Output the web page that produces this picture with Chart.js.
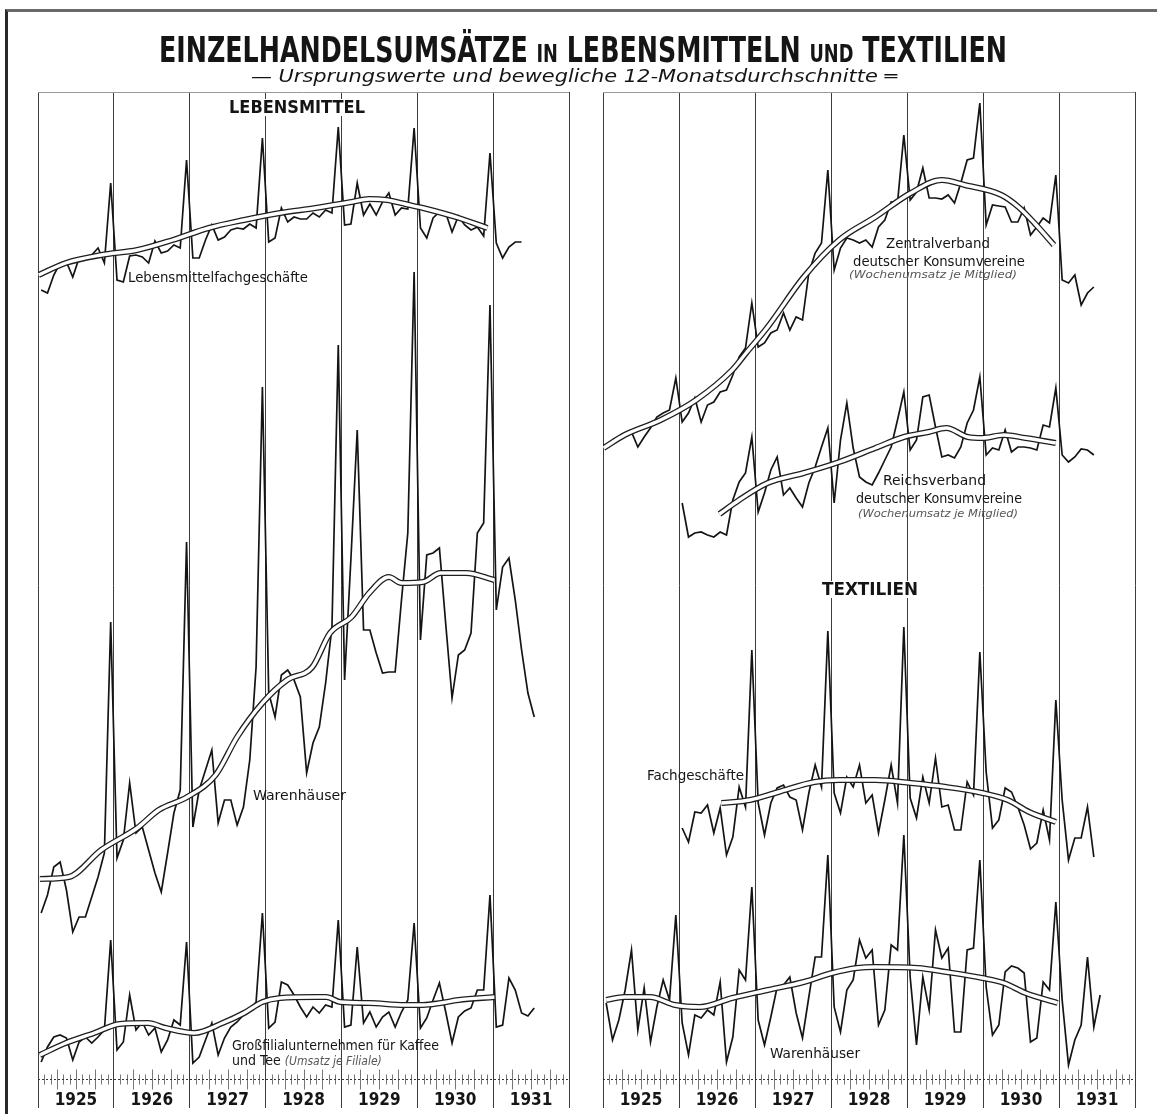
<!DOCTYPE html>
<html lang="de">
<head>
<meta charset="utf-8">
<title>Einzelhandelsumsätze in Lebensmitteln und Textilien</title>
<script src="https://cdn.jsdelivr.net/npm/chart.js@4.4.1/dist/chart.umd.min.js"></script>
<style>
  html, body { margin: 0; padding: 0; background: #fff; }
  body {
    width: 1157px; height: 1114px; position: relative; overflow: hidden;
    font-family: 'DejaVu Sans Condensed', 'Liberation Sans Narrow', 'DejaVu Sans', sans-serif;
    color: #151515;
  }
  .rahmen { position: absolute; left: 5px; top: 9px; right: -5px; bottom: -5px; border-left: 3px solid #2a2a2a; border-top: 3px solid #6a6a6a; }
  canvas { position: absolute; top: 0; }
  #chartLinks { left: 0; }
  #chartRechts { left: 586px; }
  .txt { position: absolute; white-space: nowrap; line-height: 1; transform-origin: 0 50%; }
  .titel { font-size: 36px; font-weight: bold; }
  .titel small { font-size: 0.7em; }
  .untertitel { font-size: 17px; font-style: italic; }
  .kopf { font-size: 17px; font-weight: bold; background: #fff; }
  .name { font-size: 14px; }
  .hinweis { font-size: 11px; font-style: italic; color: #555; }
  .name .hinweis { font-size: 12px; }
</style>
</head>
<body>
<div class="rahmen"></div>
<canvas id="chartLinks" width="586" height="1114"></canvas>
<canvas id="chartRechts" width="571" height="1114"></canvas>

<div class="txt titel" style="left:159px; top:32px" data-w="848">EINZELHANDELSUMSÄTZE <small>IN</small> LEBENSMITTELN <small>UND</small> TEXTILIEN</div>
<div class="txt untertitel" style="left:251px; top:68px" data-w="646">— Ursprungswerte und bewegliche 12-Monatsdurchschnitte ═</div>

<div class="txt kopf" style="left:229px; top:99px" data-w="136">LEBENSMITTEL</div>
<div class="txt kopf" style="left:822px; top:581px" data-w="96">TEXTILIEN</div>

<div class="txt name" style="left:128px; top:270px" data-w="180">Lebensmittelfachgeschäfte</div>
<div class="txt name" style="left:253px; top:788px" data-w="93">Warenhäuser</div>
<div class="txt name" style="left:232px; top:1038px" data-w="207">Großfilialunternehmen für Kaffee</div>
<div class="txt name" style="left:232px; top:1053px">und Tee <span class="hinweis">(Umsatz je Filiale)</span></div>

<div class="txt name" style="left:886px; top:236px" data-w="104">Zentralverband</div>
<div class="txt name" style="left:853px; top:254px" data-w="172">deutscher Konsumvereine</div>
<div class="txt hinweis" style="left:849px; top:269px" data-w="168">(Wochenumsatz je Mitglied)</div>

<div class="txt name" style="left:883px; top:473px" data-w="103">Reichsverband</div>
<div class="txt name" style="left:856px; top:491px" data-w="166">deutscher Konsumvereine</div>
<div class="txt hinweis" style="left:858px; top:508px" data-w="160">(Wochenumsatz je Mitglied)</div>

<div class="txt name" style="left:647px; top:768px" data-w="97">Fachgeschäfte</div>
<div class="txt name" style="left:770px; top:1046px" data-w="90">Warenhäuser</div>

<script>
// Jahre der Zeitachse (Monat 0 = Januar 1925)
const jahre = ['1925', '1926', '1927', '1928', '1929', '1930', '1931'];
const jahresGrenzen = [0, 6, 12, 18, 24, 30, 36, 42, 48, 54, 60, 66, 72, 78, 84];

// Ursprungswerte (Monatswerte, relative Höhe im Bild)
const lebensmittelFach = [
    789, 786, 804, 816, 817, 802, 821, 822, 824, 831, 816, 896,
    799, 797, 823, 824, 822, 816, 838, 826, 828, 834, 831, 919,
    821, 821, 839, 854, 839, 842, 849, 851, 850, 855, 851, 941,
    837, 841, 871, 857, 862, 860, 860, 866, 862, 869, 866, 952,
    854, 855, 896, 864, 875, 864, 877, 886, 864, 871, 870, 951,
    851, 841, 861, 867, 866, 847, 863, 854, 849, 852, 843, 926,
    836, 821, 832, 837, 837
];
const lebensmittelWarenhaus = [
    166, 184, 212, 217, 189, 147, 162, 162, 182, 202, 226, 457,
    221, 239, 296, 246, 252, 229, 206, 187, 226, 266, 289, 537,
    252, 289, 309, 329, 256, 279, 279, 254, 272, 319, 412, 692,
    386, 362, 404, 409, 399, 382, 306, 336, 352, 396, 452, 734,
    399, 520, 649, 449, 449, 426, 406, 407, 407, 479, 546, 807,
    439, 524, 526, 531, 455, 381, 424, 429, 446, 546, 556, 774,
    469, 512, 521, 479, 429, 386, 362
];
const kaffeeTeeFilialen = [
    17, 32, 42, 44, 41, 19, 37, 42, 36, 42, 49, 139,
    29, 37, 84, 49, 57, 44, 51, 27, 39, 59, 54, 137,
    16, 22, 39, 56, 24, 41, 52, 57, 64, 69, 77, 166,
    51, 57, 97, 94, 84, 72, 62, 72, 66, 74, 72, 159,
    52, 54, 132, 56, 67, 52, 62, 67, 52, 67, 79, 156,
    51, 61, 79, 96, 67, 36, 62, 68, 71, 89, 89, 184,
    52, 54, 101, 89, 66, 63, 71
];
const zentralverband = [
    634, 637, 641, 644, 647, 632, 642, 651, 662, 666, 669, 701,
    657, 666, 681, 657, 674, 677, 687, 689, 704, 722, 731, 776,
    732, 736, 746, 749, 766, 749, 762, 759, 806, 826, 836, 909,
    809, 831, 841, 839, 836, 839, 832, 852, 859, 877, 876, 944,
    879, 887, 911, 881, 881, 880, 884, 876, 896, 919, 921, 976,
    854, 874, 873, 872, 857, 857, 871, 844, 852, 861, 856, 904,
    799, 796, 804, 774, 786, 792
];
// ab Januar 1926
const reichsverband = [
    576, 542, 546, 547, 544, 542, 547, 544, 579, 597, 606, 642,
    567, 586, 609, 622, 584, 591, 581, 572, 596, 612, 632, 651,
    576, 639, 676, 631, 602, 597, 594, 606, 619, 632, 659, 687,
    629, 639, 682, 684, 652, 622, 624, 621, 632, 656, 669, 702,
    624, 631, 629, 649, 627, 632, 632, 631, 629, 654, 652, 691,
    624, 617, 622, 630, 629, 624
];
// ab Januar 1926
const textilFach = [
    251, 237, 267, 266, 274, 246, 271, 224, 242, 292, 272, 429,
    276, 244, 276, 291, 294, 282, 279, 249, 286, 314, 292, 448,
    286, 266, 302, 292, 314, 276, 284, 246, 279, 314, 276, 452,
    281, 261, 302, 276, 321, 272, 274, 249, 249, 297, 284, 427,
    307, 251, 259, 291, 287, 272, 254, 230, 236, 269, 239, 379,
    279, 219, 241, 241, 272, 222
];
const textilWarenhaus = [
    76, 39, 59, 89, 129, 49, 91, 37, 72, 99, 79, 164,
    56, 24, 64, 61, 69, 64, 97, 17, 42, 109, 99, 192,
    59, 34, 62, 92, 94, 102, 66, 41, 82, 122, 122, 224,
    72, 47, 89, 99, 139, 121, 129, 54, 69, 134, 129, 244,
    102, 34, 102, 69, 149, 121, 131, 47, 47, 129, 131, 219,
    92, 44, 54, 107, 113, 111, 106, 37, 41, 97, 89, 177,
    79, 14, 39, 54, 122, 52, 84
];

// bewegliche 12-Monatsdurchschnitte: [Monat, Wert]
const maLebensmittelFach = [[0.1, 804], [4.4, 816], [10, 824], [15.7, 829], [21.3, 839], [27, 851], [32.6, 859], [38.3, 866], [43.9, 871], [49.6, 877], [52.4, 880], [55.2, 879], [58.1, 875], [60.9, 871], [66.6, 861], [71.1, 851]];
const maLebensmittelWarenhaus = [[0.3, 200], [4.9, 202], [10, 229], [15.7, 251], [19.1, 269], [23.6, 282], [28.1, 304], [31.5, 342], [35.5, 376], [39.4, 399], [43.4, 412], [46.2, 446], [49.6, 462], [52.4, 486], [55.5, 502], [57.5, 496], [60.9, 497], [63.7, 506], [67.7, 506], [72.2, 499]];
const maKaffeeTee = [[0.3, 24], [4.4, 36], [8.9, 46], [12.9, 55], [17.4, 56], [20.2, 51], [24.7, 46], [29.2, 56], [32.6, 66], [35.5, 77], [38.3, 81], [43.9, 82], [45.6, 82], [47.8, 77], [52.4, 76], [58, 74], [60.9, 74], [63.7, 76], [66.5, 79], [72.2, 82]];
const maZentralverband = [[0.1, 631], [3.4, 644], [9.1, 659], [14.7, 679], [20.4, 709], [22.6, 726], [26, 752], [31.7, 802], [37.3, 839], [43, 862], [48.6, 886], [53.5, 899], [57.1, 894], [62.9, 884], [65.6, 872], [68.4, 854], [71.2, 834]];
const maReichsverband = [[18.4, 565], [21.5, 579], [26, 596], [31.7, 606], [37.3, 617], [43, 631], [47.5, 642], [51.4, 647], [54.2, 651], [57.6, 642], [59.9, 641], [63.3, 644], [66.7, 641], [71.5, 636]];
const maTextilFach = [[18.7, 276], [23.2, 279], [27.7, 287], [33.4, 297], [37.3, 299], [43, 299], [48.6, 296], [54.2, 292], [59.9, 286], [63.9, 279], [67.3, 267], [71.5, 257]];
const maTextilWarenhaus = [[0.5, 79], [3.4, 82], [7.4, 82], [11.4, 74], [15.3, 72], [20.4, 81], [26, 89], [31.7, 97], [36.2, 106], [40.1, 111], [43, 112], [49.7, 111], [54.2, 107], [59.9, 101], [63.3, 96], [66.7, 86], [71.8, 76]];

const schrift = "'Liberation Sans Narrow', 'DejaVu Sans Condensed', 'DejaVu Sans', sans-serif";

function ursprungswerte(werte, start) {
    return {
        data: werte.map((v, i) => ({ x: start + i + 0.5, y: v })),
        borderColor: '#141414',
        borderWidth: 1.7,
        pointRadius: 0,
        tension: 0,
        order: 3
    };
}

function durchschnitt(paare) {
    const aussen = paare.map(([x, y]) => ({ x, y }));
    const innen = paare.map(([x, y]) => ({ x, y }));
    return [
        { data: aussen, borderColor: '#1e1e1e', borderWidth: 6, pointRadius: 0, cubicInterpolationMode: 'monotone', order: 2 },
        { data: innen, borderColor: '#ffffff', borderWidth: 3.4, pointRadius: 0, cubicInterpolationMode: 'monotone', order: 1 }
    ];
}

// Monatsteilung mit punktierter Grundlinie und obere Begrenzung
const monatsStriche = {
    id: 'monatsStriche',
    beforeDatasetsDraw(chart) {
        const { ctx, chartArea, scales } = chart;
        const unten = Math.round(chartArea.bottom) + 0.5;
        ctx.save();
        ctx.strokeStyle = '#777';
        ctx.lineWidth = 1;
        for (let m = 1; m < 84; m++) {
            if (m % 12 === 0) continue;
            const px = Math.round(scales.x.getPixelForValue(m)) + 0.5;
            const lang = m % 3 === 0 ? 10 : 5;
            ctx.beginPath();
            ctx.moveTo(px, unten - lang);
            ctx.lineTo(px, unten + lang);
            ctx.stroke();
        }
        ctx.strokeStyle = '#333';
        ctx.setLineDash([2, 2]);
        ctx.beginPath();
        ctx.moveTo(chartArea.left, unten);
        ctx.lineTo(chartArea.right, unten);
        ctx.stroke();
        ctx.setLineDash([]);
        ctx.strokeStyle = '#9a9a9a';
        ctx.beginPath();
        ctx.moveTo(chartArea.left, chartArea.top + 0.5);
        ctx.lineTo(chartArea.right, chartArea.top + 0.5);
        ctx.stroke();
        ctx.restore();
    }
};

function optionen(polster) {
    return {
        responsive: false,
        animation: false,
        devicePixelRatio: 1,
        layout: { padding: polster },
        plugins: { legend: { display: false }, tooltip: { enabled: false } },
        scales: {
            x: {
                type: 'linear',
                min: 0,
                max: 84,
                afterBuildTicks: axis => { axis.ticks = jahresGrenzen.map(v => ({ value: v })); },
                afterFit: axis => { axis.height = 35; },
                border: { display: false },
                grid: {
                    color: ctx => (ctx.tick && ctx.tick.value % 12 === 0) ? '#3c3c3c' : 'rgba(0,0,0,0)',
                    tickColor: ctx => (ctx.tick && ctx.tick.value % 12 === 0) ? '#3c3c3c' : 'rgba(0,0,0,0)',
                    lineWidth: 1,
                    tickLength: 29
                },
                ticks: {
                    autoSkip: false,
                    maxRotation: 0,
                    padding: -18,
                    color: '#151515',
                    font: { family: schrift, size: 17, weight: 'bold' },
                    callback: v => (v % 12 === 6) ? jahre[(v - 6) / 12] : ''
                }
            },
            y: { display: false, min: 0, max: 987 }
        }
    };
}

new Chart(document.getElementById('chartLinks'), {
    type: 'line',
    data: {
        datasets: [
            ursprungswerte(lebensmittelFach, 0),
            ursprungswerte(lebensmittelWarenhaus, 0),
            ursprungswerte(kaffeeTeeFilialen, 0),
            ...durchschnitt(maLebensmittelFach),
            ...durchschnitt(maLebensmittelWarenhaus),
            ...durchschnitt(maKaffeeTee)
        ]
    },
    options: optionen({ left: 38, right: 17, top: 92, bottom: 0 }),
    plugins: [monatsStriche]
});

new Chart(document.getElementById('chartRechts'), {
    type: 'line',
    data: {
        datasets: [
            ursprungswerte(zentralverband, 0),
            ursprungswerte(reichsverband, 12),
            ursprungswerte(textilFach, 12),
            ursprungswerte(textilWarenhaus, 0),
            ...durchschnitt(maZentralverband),
            ...durchschnitt(maReichsverband),
            ...durchschnitt(maTextilFach),
            ...durchschnitt(maTextilWarenhaus)
        ]
    },
    options: optionen({ left: 17, right: 22, top: 92, bottom: 0 }),
    plugins: [monatsStriche]
});

// Beschriftungen auf die Breite im Original bringen
document.querySelectorAll('.txt[data-w]').forEach(el => {
    const breite = el.getBoundingClientRect().width;
    const ziel = Number(el.dataset.w);
    if (breite > 0) el.style.transform = `scaleX(${ziel / breite})`;
});
</script>
</body>
</html>
